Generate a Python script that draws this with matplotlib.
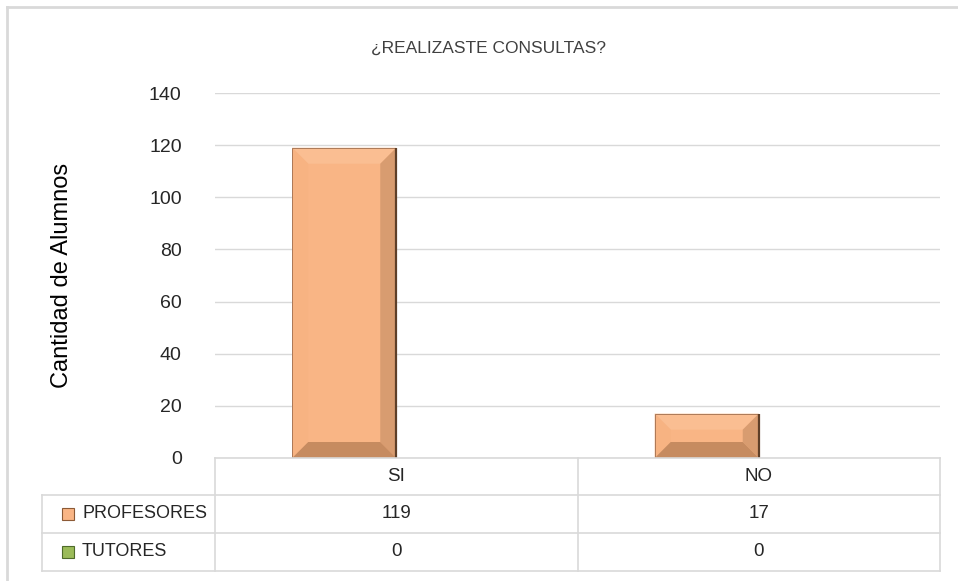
import numpy as np
import matplotlib.pyplot as plt
from matplotlib.patches import Polygon, Rectangle
from matplotlib.lines import Line2D

# -----------------------------
# Datos
# -----------------------------
categorias = ["SI", "NO"]
series = ["PROFESORES", "TUTORES"]
profesores = [119, 17]
tutores = [0, 0]
yticks = [0, 20, 40, 60, 80, 100, 120, 140]

titulo = "¿REALIZASTE CONSULTAS?"
ylabel = "Cantidad de Alumnos"

W, H = 958, 581
color_base = "#F9B585"
color_tut = "#9BBB59"
grid_c = "#D9D9D9"
txt_c = "#262626"

plt.rcParams["font.family"] = ["Liberation Sans", "DejaVu Sans"]

fig = plt.figure(figsize=(W / 100, H / 100), dpi=100)


def px(x, y):
    # pixel (desde arriba-izquierda) -> coords de figura
    return x / W, 1 - y / H


ax_l, ax_r, ax_t, ax_b = 215, 940, 93, 458
ax = fig.add_axes([ax_l / W, 1 - ax_b / H, (ax_r - ax_l) / W, (ax_b - ax_t) / H])

x = np.arange(len(categorias))
bw = 0.287
bars = ax.bar(x - bw / 2, profesores, bw, color=color_base, edgecolor="none", zorder=3)
ax.bar(x + bw / 2, tutores, bw, color=color_tut, edgecolor="none", zorder=3)

ax.set_xlim(-0.5, len(categorias) - 0.5)
ax.set_ylim(0, 140)
ax.set_yticks(yticks)
ax.set_yticklabels([str(v) for v in yticks], fontsize=14, color=txt_c)
ax.tick_params(axis="y", length=0, pad=24)
ax.set_xticks([])
ax.grid(axis="y", color=grid_c, linewidth=1, zorder=0)
for s in ax.spines.values():
    s.set_visible(False)
ax.set_ylabel(ylabel, fontsize=17, color="black")
ax.yaxis.set_label_coords(-(ax_l - 73) / (ax_r - ax_l), 0.5)

# bisel de las barras (calculado a partir de la geometría de cada barra)
fig.canvas.draw()
inv = ax.transData.inverted()
for b in bars:
    x0, y0 = b.get_x(), b.get_y()
    x1, y1 = x0 + b.get_width(), y0 + b.get_height()
    (dx0, dy0), (dx1, dy1) = ax.transData.transform([(x0, y0), (x1, y1)])
    d = min(16, (dy1 - dy0) / 2.4)
    o = [(dx0, dy0), (dx1, dy0), (dx1, dy1), (dx0, dy1)]
    i = [(dx0 + d, dy0 + d), (dx1 - d, dy0 + d), (dx1 - d, dy1 - d), (dx0 + d, dy1 - d)]
    caras = [
        ([o[3], o[2], i[2], i[3]], "#FABE92"),  # arriba
        ([o[0], o[3], i[3], i[0]], "#F7B382"),  # izquierda
        ([o[1], o[2], i[2], i[1]], "#D89C70"),  # derecha
        ([o[0], o[1], i[1], i[0]], "#C68B60"),  # abajo
    ]
    for pts, c in caras:
        ax.add_patch(Polygon(inv.transform(pts), closed=True, facecolor=c,
                             edgecolor="none", zorder=4))
    ax.add_patch(Rectangle((x0, y0), b.get_width(), b.get_height(), fill=False,
                           edgecolor="#A07050", linewidth=0.6, zorder=5))
    # borde derecho oscuro
    ax.plot([x1, x1], [y0, y1], color="#5E3F28", lw=1.6, zorder=6,
            solid_capstyle="butt")

# título
fig.text(*px(488, 48), titulo, ha="center", va="center", fontsize=12.5,
         color="#404040")

# -----------------------------
# Tabla de datos
# -----------------------------
lc = "#D9D9D9"
tab_l, rows = 42, [458, 495, 533, 571]
col_x = [ax_l, (ax_l + ax_r) / 2, ax_r]


def hline(y, xa, xb):
    fig.add_artist(Line2D([xa / W, xb / W], [1 - y / H, 1 - y / H], color=lc, lw=1.2))


def vline(xv, ya, yb):
    fig.add_artist(Line2D([xv / W, xv / W], [1 - ya / H, 1 - yb / H], color=lc, lw=1.2))


hline(rows[0], ax_l, ax_r)
for y in rows[1:]:
    hline(y, tab_l, ax_r)
for xv in col_x:
    vline(xv, rows[0], rows[-1])
vline(tab_l, rows[1], rows[-1])

for j, cat in enumerate(categorias):
    cx = (col_x[j] + col_x[j + 1]) / 2
    fig.text(*px(cx, (rows[0] + rows[1]) / 2), cat, ha="center", va="center",
             fontsize=13.5, color=txt_c)
valores = [profesores, tutores]
colores_ley = [color_base, color_tut]
bordes_ley = ["#8C5A36", "#4F6B2A"]
for r, (nombre, vals) in enumerate(zip(series, valores)):
    cy = (rows[r + 1] + rows[r + 2]) / 2
    fig.add_artist(Rectangle(px(62, cy + 6), 12 / W, 12 / H, facecolor=colores_ley[r],
                             edgecolor=bordes_ley[r], lw=0.8))
    fig.text(*px(82, cy), nombre, ha="left", va="center", fontsize=13, color=txt_c)
    for j, v in enumerate(vals):
        cx = (col_x[j] + col_x[j + 1]) / 2
        fig.text(*px(cx, cy), str(v), ha="center", va="center", fontsize=13.5, color=txt_c)

# borde exterior (recortado)
fig.add_artist(Line2D([7 / W, 1], [1 - 7 / H, 1 - 7 / H], color="#D9D9D9", lw=2))
fig.add_artist(Line2D([7 / W, 7 / W], [1 - 7 / H, 0], color="#D9D9D9", lw=2))

fig.savefig("out.png", dpi=100)
